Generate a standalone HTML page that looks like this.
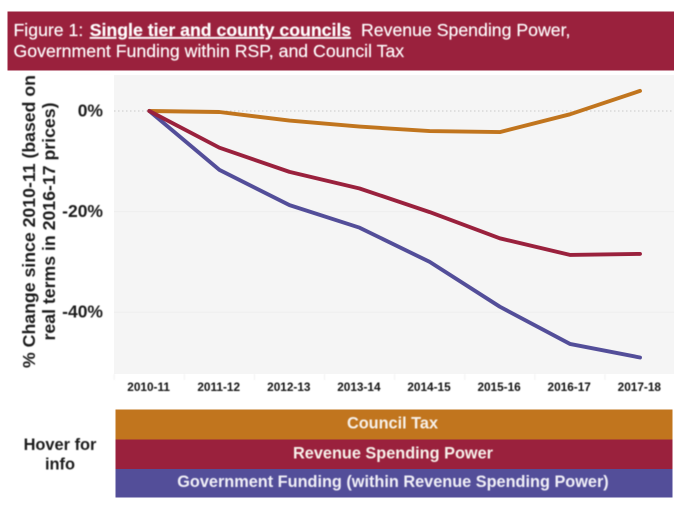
<!DOCTYPE html>
<html lang="en">
<head>
<meta charset="utf-8">
<title>Figure 1: Single tier and county councils</title>
<style>
html,body{margin:0;padding:0;background:#fff;width:680px;height:506px;overflow:hidden}
svg{display:block;font-family:"Liberation Sans",Arial,sans-serif}
.soft{filter:blur(0.4px)}
.lines{filter:blur(0.3px)}
</style>
</head>
<body>
<svg id="chart" width="680" height="506" viewBox="0 0 680 506" xmlns="http://www.w3.org/2000/svg">
  <rect x="7.5" y="11.5" width="666.5" height="59" fill="#9a213d"/>
  <g class="soft" fill="#fff" font-size="17.7" stroke="#fff" stroke-width="0.15">
    <text x="13.5" y="36" xml:space="preserve">Figure 1: <tspan dx="1.5" font-weight="bold" text-decoration="underline">Single tier and county councils</tspan>  Revenue Spending Power,</text>
    <text x="13.5" y="57">Government Funding within RSP, and Council Tax</text>
  </g>
  <rect x="114" y="75" width="560" height="299" fill="#f5f5f5"/>
  <g id="grid"></g>
  <g id="yticks" class="soft"></g>
  <g id="xticks" class="soft"></g>
  <g id="series" class="lines"></g>
  <g class="soft" fill="#1c1c1c" font-size="17.7" font-weight="bold" text-anchor="middle">
    <text transform="translate(35 221.5) rotate(-90)">% Change since 2010-11 (based on</text>
    <text transform="translate(55 221.5) rotate(-90)">real terms in 2016-17 prices)</text>
  </g>
  <g class="soft" fill="#1c1c1c" font-size="16.4" font-weight="bold" text-anchor="middle">
    <text x="60" y="450">Hover for</text>
    <text x="60" y="469.5">info</text>
  </g>
  <g>
    <rect x="115.5" y="409.5" width="557" height="30" fill="#c1751e"/>
    <text class="soft" x="392.5" y="428.5" fill="#f7f1ea" font-size="16.3" font-weight="bold" text-anchor="middle">Council Tax</text>
  </g>
  <g>
    <rect x="115.5" y="439.5" width="557" height="29.5" fill="#9a213d"/>
    <text class="soft" x="393" y="458.5" fill="#f7f1ea" font-size="16.3" font-weight="bold" text-anchor="middle">Revenue Spending Power</text>
  </g>
  <g>
    <rect x="115.5" y="469" width="557" height="28.5" fill="#534e99"/>
    <text class="soft" x="393" y="487" fill="#f1f0f7" font-size="16.3" font-weight="bold" text-anchor="middle">Government Funding (within Revenue Spending Power)</text>
  </g>
</svg>
<script>
const categories = ["2010-11","2011-12","2012-13","2013-14","2014-15","2015-16","2016-17","2017-18"];
const councilTax = [0,-0.2,-1.9,-3.1,-4,-4.2,-0.65,4];
const revenueSpendingPower = [0,-7.3,-12.1,-15.4,-20.1,-25.3,-28.6,-28.4];
const governmentFunding = [0,-11.7,-18.7,-23.2,-30,-38.9,-46.3,-49];
const yTickValues = [0,-20,-40];
const yTickLabels = ["0%","-20%","-40%"];

const NS = "http://www.w3.org/2000/svg";
function xScale(i){ return 149.3 + i * (640 - 149.3) / (categories.length - 1); }
function yScale(v){ return 111 - v * 5.03; }
function make(tag, attrs, parent){
  const el = document.createElementNS(NS, tag);
  for (const k in attrs) el.setAttribute(k, attrs[k]);
  parent.appendChild(el);
  return el;
}
const grid = document.getElementById("grid");
const yticks = document.getElementById("yticks");
const xticks = document.getElementById("xticks");
const seriesGroup = document.getElementById("series");

yTickValues.forEach(function(v, i){
  const line = make("line", {x1:114, x2:674, y1:yScale(v), y2:yScale(v),
    stroke: v === 0 ? "#c9c9c9" : "#eeeeee",
    "stroke-width": 1,
    "stroke-dasharray": v === 0 ? "1.5 2.5" : "none"}, grid);
  
  
  const label = make("text", {x:103, y:yScale(v) + 5.5, "text-anchor":"end", "font-size":17.5, "font-weight":"bold", fill:"#1c1c1c"}, yticks);
  label.textContent = yTickLabels[i];
  
  
});

categories.forEach(function(c, i){
  const label = make("text", {x:xScale(i) - 0.7, y:391, "text-anchor":"middle", "font-size":11.8, "font-weight":"bold", fill:"#111111"}, xticks);
  label.textContent = c;
  
  
  const tx = xScale(i) - (xScale(1) - xScale(0)) / 2;
  const tick = make("line", {x1:tx, x2:tx, y1:374, y2:380, stroke:"#f1f1f1", "stroke-width":1}, xticks);
  
  
});

function drawSeries(values, color, name){
  const pts = values.map(function(v, i){ return xScale(i).toFixed(1) + "," + yScale(v).toFixed(1); }).join(" ");
  const line = make("polyline", {points:pts, fill:"none", stroke:color, "stroke-width":3.9, "stroke-linejoin":"round", "stroke-linecap":"round"}, seriesGroup);
  
  
}
drawSeries(governmentFunding, "#534e99", "government-funding-line");
drawSeries(councilTax, "#c1751e", "council-tax-line");
drawSeries(revenueSpendingPower, "#9a213d", "revenue-spending-power-line");
</script>
</body>
</html>
